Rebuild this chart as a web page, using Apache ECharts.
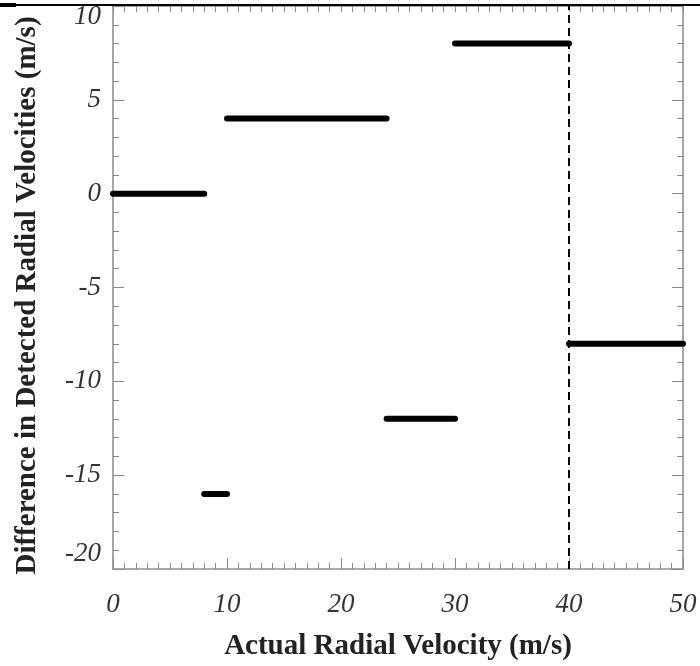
<!DOCTYPE html>
<html lang="en">
<head>
    <meta charset="UTF-8">
    <title>Radial velocity difference</title>
    <script src="https://cdn.jsdelivr.net/npm/echarts@6/dist/echarts.min.js"></script>
    <style>
        html, body { margin: 0; padding: 0; background: #fff; }
        #main { width: 700px; height: 666px; }
    </style>
</head>
<body>
    <div id="main"></div>
    <script>
        // segments: start x, end x, y value
        var segStartX = [0, 10, 30, 8, 24, 40];
        var segEndX = [8, 24, 40, 10, 30, 50];
        var segY = [0, 4, 8, -16, -12, -8];
        // dashed reference line
        var refLineX = 40;
        var refLineY = [-20, 10];

        var xTitle = 'Actual Radial Velocity (m/s)';
        var yTitle = 'Difference in Detected Radial Velocities (m/s)';

        // build one line series with gaps between segments
        var segData = [];
        segStartX.forEach(function (x0, i) {
            if (i > 0) segData.push('-');
            segData.push([x0, segY[i]]);
            segData.push([segEndX[i], segY[i]]);
        });

        var serif = 'Liberation Serif, Times New Roman, serif';
        var axisGray = '#8a8a8a';
        var labelSize = 27;

        function frameAxis(extra) {
            var base = {
                axisLine: { show: true, onZero: false, lineStyle: { color: axisGray, width: 1.5 } },
                axisTick: { show: true, inside: true, length: 11, lineStyle: { color: axisGray, width: 1 } },
                minorTick: { show: true, length: 6, lineStyle: { color: axisGray, width: 1 } },
                splitLine: { show: false },
                minorSplitLine: { show: false }
            };
            for (var k in extra) base[k] = extra[k];
            return base;
        }

        var option = {
            animation: false,
            backgroundColor: '#fff',
            grid: { left: 113, right: 17, top: 6, bottom: 93 },
            xAxis: [
                frameAxis({
                    type: 'value', position: 'bottom', min: 0, max: 50, interval: 10,
                    minorTick: { show: true, splitNumber: 10, length: 6, lineStyle: { color: axisGray } },
                    axisLabel: {
                        margin: 22, fontFamily: serif, fontStyle: 'italic', fontSize: labelSize, color: '#333'
                    },
                    name: xTitle, nameLocation: 'middle', nameGap: 63,
                    nameTextStyle: { fontFamily: serif, fontWeight: 'bold', fontSize: 29, color: '#222' }
                }),
                frameAxis({
                    type: 'value', position: 'top', min: 0, max: 50, interval: 10,
                    axisTick: { show: true, inside: true, length: 6, lineStyle: { color: axisGray } },
                    minorTick: { show: true, splitNumber: 10, length: 6, lineStyle: { color: axisGray } },
                    axisLabel: { show: false }
                })
            ],
            yAxis: [
                frameAxis({
                    type: 'value', position: 'left', min: -20, max: 10, interval: 5,
                    minorTick: { show: true, splitNumber: 5, length: 6, lineStyle: { color: axisGray } },
                    axisLabel: {
                        margin: 12, fontFamily: serif, fontStyle: 'italic', fontSize: labelSize, color: '#333',
                        formatter: function (v) {
                            if (v === 10) return '{top|' + v + '}';
                            if (v === -20) return '{bot|' + v + '}';
                            return '' + v;
                        },
                        rich: {
                            top: { fontFamily: serif, fontStyle: 'italic', fontSize: labelSize, color: '#333', padding: [22, 0, 0, 0] },
                            bot: { fontFamily: serif, fontStyle: 'italic', fontSize: labelSize, color: '#333', padding: [0, 0, 30, 0] }
                        }
                    },
                    name: yTitle, nameLocation: 'middle', nameGap: 71,
                    nameTextStyle: { fontFamily: serif, fontWeight: 'bold', fontSize: 29, color: '#222', padding: [0, 16, 0, 0] }
                }),
                frameAxis({
                    type: 'value', position: 'right', min: -20, max: 10, interval: 5,
                    minorTick: { show: true, splitNumber: 5, length: 6, lineStyle: { color: axisGray } },
                    axisLabel: { show: false }
                })
            ],
            series: [
                {
                    name: 'difference',
                    type: 'line',
                    data: segData,
                    connectNulls: false,
                    showSymbol: false,
                    symbol: 'none',
                    lineStyle: { color: '#000', width: 6, cap: 'round' },
                    z: 5
                },
                {
                    name: 'reference',
                    type: 'line',
                    data: [[refLineX, refLineY[0]], [refLineX, refLineY[1]]],
                    showSymbol: false,
                    symbol: 'none',
                    lineStyle: { color: '#000', width: 2, type: [8, 5] },
                    z: 4
                }
            ],
            graphic: [
                // scanned top border
                { type: 'line', shape: { x1: 0, y1: 5, x2: 700, y2: 5 }, style: { stroke: '#000', lineWidth: 2 }, z: 10 },
                { type: 'line', shape: { x1: 0, y1: 5, x2: 16, y2: 5 }, style: { stroke: '#000', lineWidth: 4 }, z: 10 }
            ]
        };

        var myChart = echarts.init(document.getElementById('main'));
        myChart.setOption(option);
    </script>
</body>
</html>
